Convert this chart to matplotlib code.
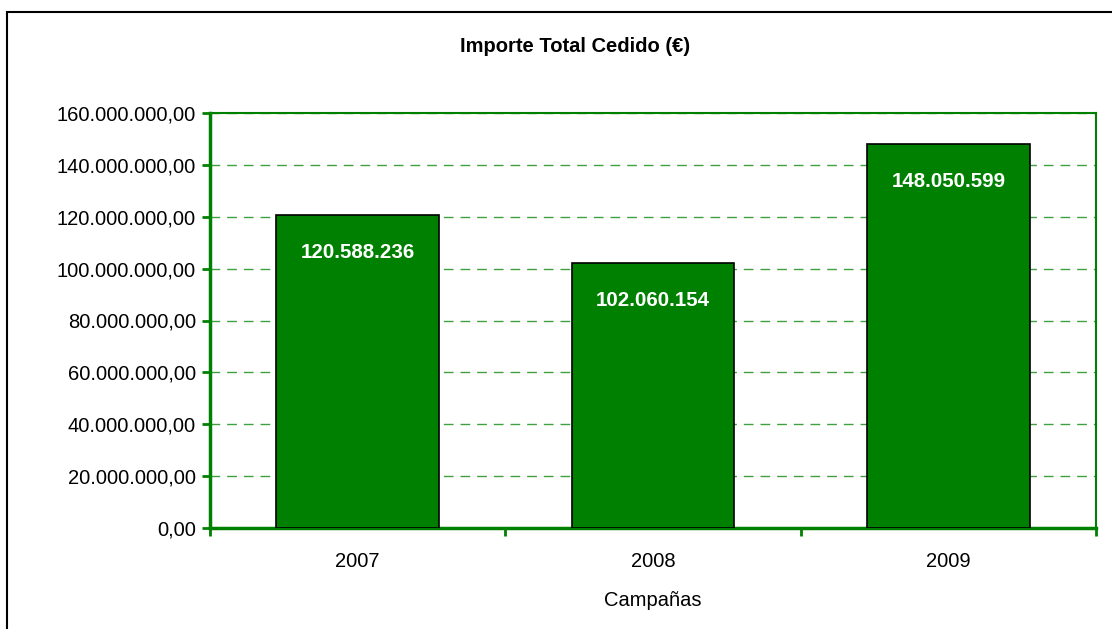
import matplotlib
matplotlib.use("Agg")
import matplotlib.pyplot as plt
from matplotlib.patches import Rectangle
from matplotlib.ticker import FuncFormatter, FixedLocator

plt.rcParams['font.family'] = ['Liberation Sans', 'DejaVu Sans']

campanas = ['2007', '2008', '2009']
importes = [120588236, 102060154, 148050599]
etiquetas = ['120.588.236', '102.060.154', '148.050.599']

verde = '#008000'

fig = plt.figure(figsize=(11.12, 6.29), dpi=100)
ax = fig.add_axes([210 / 1112, 1 - 528 / 629, 886 / 1112, 415 / 629])

x = list(range(len(campanas)))
bars = ax.bar(x, importes, width=0.55, color=verde, edgecolor='black', linewidth=1.2, zorder=3)

for b, txt in zip(bars, etiquetas):
    ax.annotate(txt, (b.get_x() + b.get_width() / 2, b.get_height()),
                xytext=(0, -27), textcoords='offset points',
                ha='center', va='center', color='white', fontweight='bold', fontsize=14.8, zorder=4)

ax.set_xlim(-0.5, 2.5)
ax.set_ylim(0, 160000000)
ax.set_yticks(range(0, 160000001, 20000000))
ax.yaxis.set_major_formatter(FuncFormatter(
    lambda v, p: f"{v:,.2f}".replace(',', 'X').replace('.', ',').replace('X', '.')))

ax.set_xticks(x)
ax.set_xticklabels(campanas)
ax.xaxis.set_minor_locator(FixedLocator([-0.5, 0.5, 1.5, 2.5]))
ax.tick_params(axis='x', which='major', length=0, pad=17, labelsize=14.5)
ax.tick_params(axis='x', which='minor', length=6, width=2, color=verde, direction='out')
ax.tick_params(axis='y', length=6, width=2, color=verde, labelsize=14.5, pad=4)

ax.grid(axis='y', color=verde, linestyle=(0, (7, 5)), linewidth=1.0, alpha=0.75, zorder=0)
for s in ['left', 'bottom']:
    ax.spines[s].set_color(verde)
    ax.spines[s].set_linewidth(2.5)
for s in ['top', 'right']:
    ax.spines[s].set_color(verde)
    ax.spines[s].set_linewidth(1.5)

ax.set_xlabel('Campañas', fontsize=14.5, labelpad=15)
fig.text(575 / 1112, 1 - 47 / 629, 'Importe Total Cedido (€)', ha='center', va='center',
         fontsize=14.5, fontweight='bold')

# marco exterior
fig.patches.append(Rectangle((7 / 1112, -0.1), 1.2, 1.1 - 12 / 629, transform=fig.transFigure,
                             fill=False, edgecolor='black', linewidth=1.5))

fig.savefig('out.png', dpi=100)
